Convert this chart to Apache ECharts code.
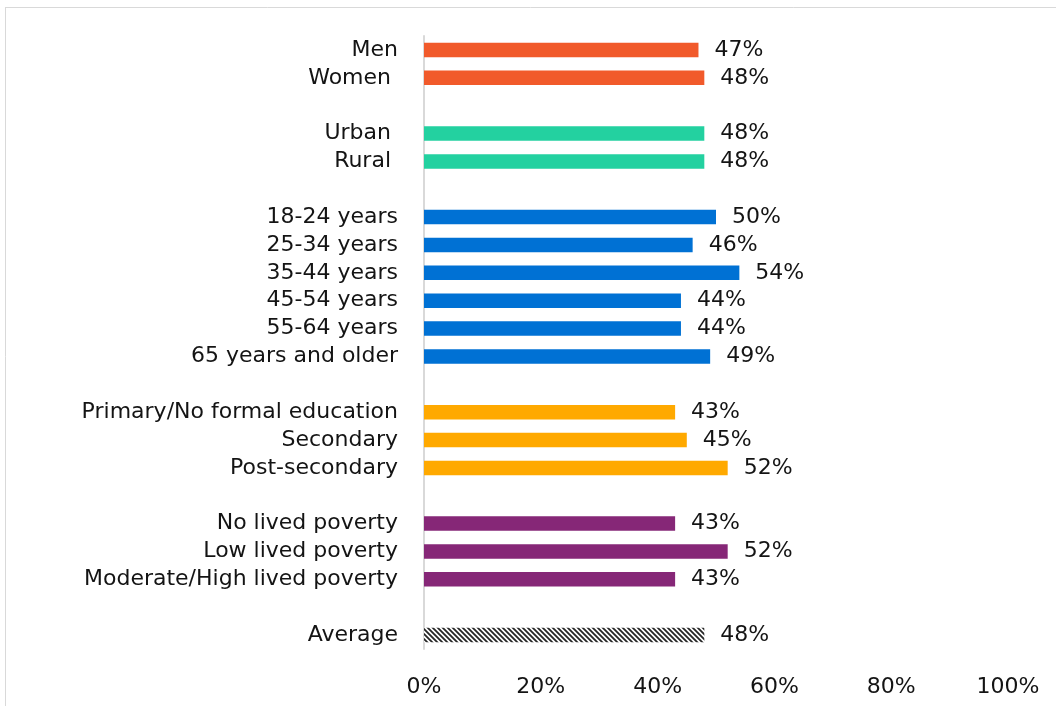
<!DOCTYPE html>
<html>
<head>
<meta charset="utf-8">
<script src="https://cdn.jsdelivr.net/npm/echarts@6/dist/echarts.min.js"></script>
<style>
  html, body { margin: 0; padding: 0; background: #fff; }
  #chart { width: 1056px; height: 706px; }
</style>
</head>
<body>
<div id="chart"></div>
<script>
// Rows from top to bottom; blank entries separate the groups.
const categories = [
  'Men', 'Women ', ' ',
  'Urban ', 'Rural ', '  ',
  '18-24 years', '25-34 years', '35-44 years', '45-54 years', '55-64 years', '65 years and older', '   ',
  'Primary/No formal education', 'Secondary', 'Post-secondary', '    ',
  'No lived poverty', 'Low lived poverty', 'Moderate/High lived poverty', '     ',
  'Average'
];
const values = [
  47, 48, null,
  48, 48, null,
  50, 46, 54, 44, 44, 49, null,
  43, 45, 52, null,
  43, 52, 43, null,
  48
];
// Group index of each row (into groupColors); -1 for the hatched average bar.
const groups = [
  0, 0, null,
  1, 1, null,
  2, 2, 2, 2, 2, 2, null,
  3, 3, 3, null,
  4, 4, 4, null,
  -1
];
const groupColors = ['#F15A2B', '#23D1A0', '#0071D4', '#FFA900', '#862777'];
const xTicks = [0, 20, 40, 60, 80, 100];

// Diagonal hatch fill for the average bar
function hatch() {
  const s = 5;
  const c = document.createElement('canvas');
  c.width = s; c.height = s;
  const g = c.getContext('2d');
  g.fillStyle = '#ffffff';
  g.fillRect(0, 0, s, s);
  g.strokeStyle = '#262626';
  g.lineWidth = 1.8;
  g.beginPath();
  for (let k = -1; k <= 1; k++) {
    g.moveTo(k * s - 1, -1);
    g.lineTo(k * s + s + 1, s + 1);
  }
  g.stroke();
  return c;
}
const hatchImg = hatch();

const FONT = '"DejaVu Sans", sans-serif';
const TEXT = '#141414';
const chart = echarts.init(document.getElementById('chart'), null, { renderer: 'canvas' });

const seriesData = values.map((v, i) => {
  if (v === null) return { value: null };
  const gi = groups[i];
  return {
    value: v,
    itemStyle: { color: gi < 0 ? { image: hatchImg, repeat: 'repeat' } : groupColors[gi] }
  };
});

chart.setOption({
  backgroundColor: '#ffffff',
  animation: false,
  graphic: [
    { type: 'line', shape: { x1: 5, y1: 7.5, x2: 1056, y2: 7.5 }, style: { stroke: '#D9D9D9', lineWidth: 1 } },
    { type: 'line', shape: { x1: 5.5, y1: 7, x2: 5.5, y2: 706 }, style: { stroke: '#D9D9D9', lineWidth: 1 } }
  ],
  grid: { left: 424, right: 48, top: 36, bottom: 57, containLabel: false },
  xAxis: {
    type: 'value',
    min: xTicks[0],
    max: xTicks[xTicks.length - 1],
    interval: 20,
    axisLine: { show: false },
    axisTick: { show: false },
    splitLine: { show: false },
    axisLabel: {
      formatter: v => v + '%',
      fontFamily: FONT, fontSize: 22, color: TEXT, margin: 27
    }
  },
  yAxis: {
    type: 'category',
    data: categories,
    inverse: true,
    axisLine: { show: true, lineStyle: { color: '#D9D9D9', width: 2 } },
    axisTick: { show: false },
    axisLabel: {
      interval: 0,
      fontFamily: FONT, fontSize: 22, color: TEXT, margin: 26
    }
  },
  series: [{
    type: 'bar',
    data: seriesData,
    barWidth: '52%',
    label: {
      show: true,
      position: 'right',
      distance: 16,
      formatter: p => (p.value == null ? '' : p.value + '%'),
      fontFamily: FONT, fontSize: 22, color: TEXT
    }
  }]
});
</script>
</body>
</html>
